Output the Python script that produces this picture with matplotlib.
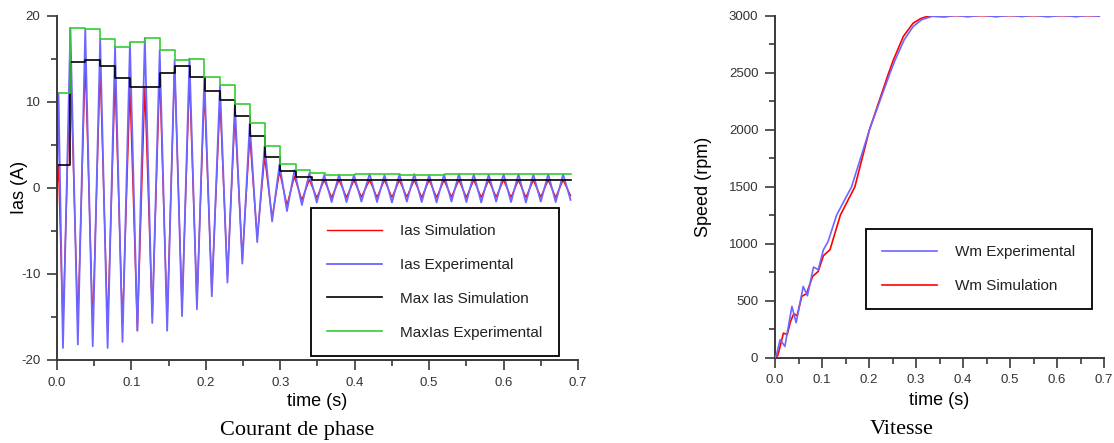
import matplotlib
matplotlib.use('Agg')
import matplotlib.pyplot as plt
from matplotlib.ticker import MultipleLocator

# phase current: extreme points (time of each peak / trough)
ias_t = [0.000, 0.002,
         0.008, 0.018, 0.028, 0.038, 0.048, 0.058, 0.068, 0.078, 0.088, 0.098,
         0.108, 0.118, 0.128, 0.138, 0.148, 0.158, 0.168, 0.178, 0.188, 0.198,
         0.208, 0.219, 0.229, 0.239, 0.249, 0.259, 0.269, 0.279, 0.289, 0.299,
         0.309, 0.319, 0.329, 0.339, 0.349, 0.359, 0.369, 0.379, 0.389, 0.399,
         0.409, 0.420, 0.430, 0.440, 0.450, 0.460, 0.470, 0.480, 0.490, 0.500,
         0.510, 0.520, 0.530, 0.540, 0.550, 0.560, 0.570, 0.580, 0.590, 0.600,
         0.610, 0.620, 0.630, 0.640, 0.650, 0.660, 0.670, 0.680, 0.690]
ias_exp = [0.0, 11.0,
           -18.6, 18.6, -18.2, 18.4, -18.4, 17.3, -18.6, 16.4, -17.9, 16.8,
           -16.6, 17.4, -15.7, 16.0, -16.6, 14.8, -14.9, 15.0, -14.1, 12.9,
           -12.6, 11.9, -11.0, 9.7, -8.8, 7.5, -6.3, 4.9, -3.9, 2.75,
           -2.7, 2.05, -2.0, 1.7, -1.7, 1.5, -1.65, 1.55, -1.65, 1.5,
           -1.6, 1.62, -1.65, 1.5, -1.7, 1.55, -1.6, 1.6, -1.65, 1.5,
           -1.7, 1.55, -1.6, 1.62, -1.65, 1.58, -1.7, 1.55, -1.6, 1.6,
           -1.65, 1.6, -1.7, 1.55, -1.6, 1.6, -1.65, 1.58, -1.4]
ias_sim = [0.0, 2.65,
           -16.2, 14.6, -15.8, 14.8, -16.0, 14.1, -16.3, 12.8, -16.0, 11.7,
           -16.6, 11.7, -15.0, 13.3, -15.4, 14.1, -14.0, 12.9, -13.3, 11.3,
           -12.0, 10.2, -10.3, 8.4, -8.3, 6.0, -5.8, 3.6, -3.5, 1.9,
           -2.0, 1.3, -1.4, 0.95, -1.15, 0.9, -1.1, 0.9, -1.1, 0.88,
           -1.05, 0.9, -1.1, 0.9, -1.1, 0.88, -1.05, 0.9, -1.1, 0.9,
           -1.1, 0.88, -1.05, 0.9, -1.1, 0.9, -1.1, 0.88, -1.05, 0.9,
           -1.1, 0.9, -1.1, 0.88, -1.05, 0.9, -1.1, 0.9, -0.9]

# envelopes (held maximum, step changes at each peak)
max_sim_t = [0.000, 0.000, 0.017, 0.038, 0.058, 0.078, 0.098, 0.139, 0.159,
             0.179, 0.199, 0.219, 0.239, 0.259, 0.279, 0.300, 0.321, 0.342, 0.690]
max_sim = [0.0, 2.65, 14.6, 14.8, 14.1, 12.8, 11.7, 13.3, 14.1,
           12.9, 11.3, 10.2, 8.4, 6.0, 3.6, 1.9, 1.3, 0.93, 0.93]
max_exp_t = [0.000, 0.000, 0.017, 0.038, 0.058, 0.078, 0.098, 0.118, 0.139,
             0.159, 0.178, 0.198, 0.219, 0.239, 0.259, 0.279, 0.300, 0.321,
             0.340, 0.360, 0.400, 0.461, 0.521, 0.690]
max_exp = [0.0, 11.0, 18.6, 18.4, 17.3, 16.4, 16.9, 17.4, 16.0,
           14.8, 15.0, 12.9, 11.9, 9.7, 7.5, 4.9, 2.75, 2.05,
           1.75, 1.5, 1.65, 1.5, 1.65, 1.65]

# speed
wm_exp_t = [0.000, 0.004, 0.011, 0.021, 0.036, 0.045, 0.060, 0.069, 0.082,
            0.092, 0.103, 0.113, 0.131, 0.163, 0.201, 0.245, 0.255, 0.275,
            0.294, 0.312, 0.335, 0.360, 0.385, 0.410, 0.440, 0.470, 0.500,
            0.525, 0.550, 0.580, 0.610, 0.640, 0.665, 0.690]
wm_exp = [0, 40, 158, 99, 450, 307, 625, 544, 795,
          772, 947, 1020, 1250, 1500, 2000, 2500, 2605, 2790,
          2905, 2965, 2995, 2988, 3004, 2990, 3006, 2990, 3005,
          2992, 3005, 2990, 3004, 2991, 3004, 2995]
wm_sim_t = [0.000, 0.006, 0.018, 0.026, 0.033, 0.040, 0.047, 0.057, 0.067,
            0.080, 0.092, 0.103, 0.117, 0.139, 0.170, 0.201, 0.242, 0.252,
            0.273, 0.294, 0.310, 0.323, 0.340, 0.690]
wm_sim = [0, 20, 216, 202, 318, 386, 368, 538, 561,
          713, 757, 895, 947, 1250, 1500, 2000, 2500, 2613,
          2818, 2935, 2975, 2993, 3000, 3000]

RED = '#ff0000'
BLUE = '#6e66ff'
GREEN = '#33cc33'
TICKC = '#333333'
SPINEC = '#3a3a3a'

W, H = 1114, 443


def style_axes(ax):
    for s in ('top', 'right'):
        ax.spines[s].set_visible(False)
    for s in ('left', 'bottom'):
        ax.spines[s].set_color(SPINEC)
        ax.spines[s].set_linewidth(1.4)
    ax.tick_params(which='major', direction='out', length=7, width=1.2,
                   color=SPINEC, labelsize=9.5, labelcolor=TICKC, pad=5)
    ax.tick_params(which='minor', direction='out', length=4, width=1.2,
                   color=SPINEC)
    ax.xaxis.set_major_locator(MultipleLocator(0.1))
    ax.xaxis.set_minor_locator(MultipleLocator(0.05))
    ax.xaxis.set_major_formatter(plt.FormatStrFormatter('%.1f'))


def legend_box(ax, fig, x, y):
    leg = ax.legend(loc='upper left', bbox_to_anchor=(x / W, 1 - y / H),
                    bbox_transform=fig.transFigure, borderaxespad=0,
                    fontsize=11, handlelength=3.6, handletextpad=1.2,
                    labelspacing=1.3, borderpad=1.05, fancybox=False,
                    framealpha=1, edgecolor='black')
    leg.get_frame().set_linewidth(1.3)
    for txt in leg.get_texts():
        txt.set_color('#222222')
    return leg


def main():
    plt.rcParams['font.family'] = ['Liberation Sans', 'DejaVu Sans']
    plt.rcParams['axes.unicode_minus'] = False
    fig = plt.figure(figsize=(W / 100, H / 100), dpi=100)

    # left: phase current
    ax1 = fig.add_axes([57 / W, 1 - 360 / H, 521 / W, 344.3 / H])
    ax1.plot(ias_t, ias_sim, color=RED, lw=1.0, label='Ias Simulation')
    ax1.plot(ias_t, ias_exp, color=BLUE, lw=1.3, label='Ias Experimental')
    ax1.step(max_sim_t, max_sim, where='post', color='black', lw=1.2,
             label='Max Ias Simulation')
    ax1.step(max_exp_t, max_exp, where='post', color=GREEN, lw=1.2,
             label='MaxIas Experimental')
    ax1.set_xlim(0, 0.7)
    ax1.set_ylim(-20, 20)
    style_axes(ax1)
    ax1.yaxis.set_major_locator(MultipleLocator(10))
    ax1.yaxis.set_minor_locator(MultipleLocator(5))
    ax1.set_xlabel('time (s)', fontsize=13)
    ax1.xaxis.set_label_coords(0.5, -0.095)
    ax1.xaxis.label.set_va('top')
    ax1.set_ylabel('Ias (A)', fontsize=13)
    ax1.yaxis.set_label_coords(-0.056, 0.5)
    legend_box(ax1, fig, 311, 208)

    # right: speed
    ax2 = fig.add_axes([775 / W, 1 - 357.7 / H, 329 / W, 342 / H])
    ax2.plot(wm_exp_t, wm_exp, color=BLUE, lw=1.2, label='Wm Experimental')
    ax2.plot(wm_sim_t, wm_sim, color=RED, lw=1.2, label='Wm Simulation')
    # keep blue on top like the original
    ax2.lines[0].set_zorder(3)
    ax2.set_xlim(0, 0.7)
    ax2.set_ylim(0, 3000)
    style_axes(ax2)
    ax2.yaxis.set_major_locator(MultipleLocator(500))
    ax2.yaxis.set_minor_locator(MultipleLocator(250))
    ax2.set_xlabel('time (s)', fontsize=13)
    ax2.xaxis.set_label_coords(0.5, -0.1)
    ax2.xaxis.label.set_va('top')
    ax2.set_ylabel('Speed (rpm)', fontsize=13)
    ax2.yaxis.set_label_coords(-0.19, 0.5)
    legend_box(ax2, fig, 866, 229)

    # captions under each panel
    fig.text(297 / W, 1 - 430 / H, 'Courant de phase', family='Liberation Serif',
             fontsize=16, ha='center', va='center')
    fig.text(902 / W, 1 - 429 / H, 'Vitesse', family='Liberation Serif',
             fontsize=16, ha='center', va='center')

    plt.savefig('out.png', dpi=100)


if __name__ == "__main__":
    main()
